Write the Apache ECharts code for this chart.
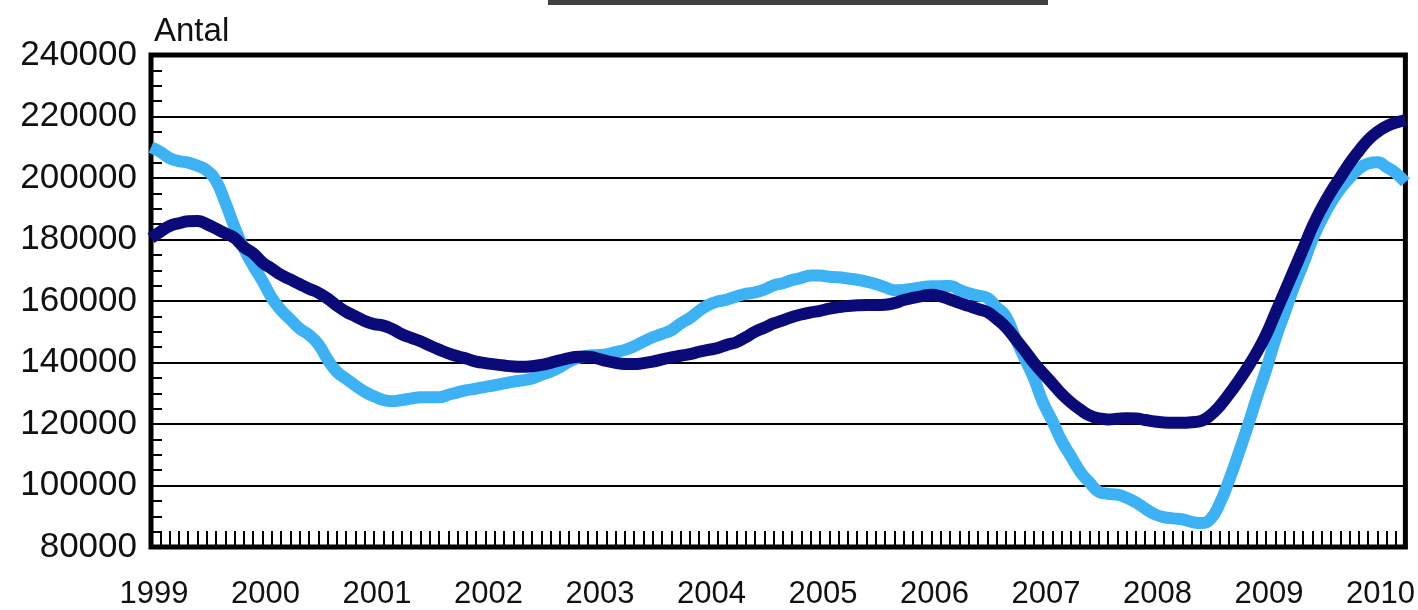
<!DOCTYPE html>
<html>
<head>
<meta charset="utf-8">
<script src="https://cdn.jsdelivr.net/npm/echarts@6/dist/echarts.min.js"></script>
<style>html,body{margin:0;padding:0;background:#fff}#c{width:1418px;height:610px}</style>
</head>
<body>
<div id="c"></div>
<script>
// Tick labels: one per January
const years = ['1999','2000','2001','2002','2003','2004','2005','2006','2007','2008','2009','2010'];
const monthsInLastYear = 4; // Jan–Apr 2010
const yTicks = [80000, 100000, 120000, 140000, 160000, 180000, 200000, 220000, 240000];
const yName = 'Antal';

// Light blue series (monthly, Jan 1999 – Apr 2010)
const seriesLight = [
  210000,208500,206500,205500,205000,204000,202500,199000,192000,184000,177000,171500,
  166500,161000,157000,154000,151000,149000,146000,141000,137000,134700,132500,130500,
  129000,127800,127400,127800,128300,128700,128700,128700,129500,130300,131000,131500,
  132100,132600,133200,133800,134200,134800,136000,137000,138500,140300,141500,142200,
  142400,142600,143400,144100,145300,146800,148200,149300,150500,152700,154500,156800,
  158700,159800,160500,161500,162300,162800,163700,165100,165800,166800,167500,168300,
  168300,167900,167700,167300,166900,166300,165500,164500,163500,163600,164000,164500,
  164800,164800,164900,163600,162500,161800,161000,158000,155000,148000,141500,135000,
  127000,121000,114500,109500,104500,101000,98000,97300,97000,96000,94500,92500,
  90700,89700,89300,89000,88200,87800,89000,94000,101500,110000,119000,128500,
  137500,147500,156000,164500,172000,180000,186500,192000,196500,200000,203000,204700,
  205100,203500,201500,198600
];
// Dark navy series (monthly, Jan 1999 – Apr 2010)
const seriesDark = [
  180400,182500,184400,185300,185900,186000,185000,183500,182000,180500,177500,175500,
  172500,170500,168500,167000,165500,164000,162700,160800,158500,156500,155000,153500,
  152500,152000,150800,149200,148000,146900,145500,144200,143000,142000,141200,140300,
  139800,139400,139000,138700,138600,138800,139200,139900,140700,141400,141900,141900,
  141300,140500,139900,139500,139500,139800,140300,141000,141700,142200,142700,143500,
  144100,144700,145800,146600,148200,150000,151300,152700,153700,154800,155600,156300,
  156800,157500,158000,158400,158600,158700,158700,158800,159300,160300,161000,161600,
  162000,161500,160500,159400,158400,157400,156400,154200,151500,147800,144000,140000,
  136500,133200,129800,127000,124700,122800,121800,121500,121700,121900,121800,121300,
  120800,120500,120400,120400,120600,121000,122800,125800,129600,133800,138300,143300,
  149000,156000,163000,170000,177000,184200,190300,195600,200200,204800,208800,212400,
  215000,216900,218000,218800
];

const categories = [];
years.forEach((y, i) => {
  const n = (i === years.length - 1) ? monthsInLastYear : 12;
  for (let m = 1; m <= n; m++) categories.push(y + '-' + String(m).padStart(2, '0'));
});

const chart = echarts.init(document.getElementById('c'), null, {renderer: 'canvas'});
const FONT = 'Liberation Sans, Arial, sans-serif';
chart.setOption({
  animation: false,
  backgroundColor: '#ffffff',
  title: {
    text: yName, left: 149, top: 10,
    textStyle: {fontFamily: FONT, fontSize: 33, fontWeight: 'normal', color: '#111'}
  },
  graphic: [{
    type: 'rect', left: 548, top: 0, shape: {width: 500, height: 5},
    style: {fill: '#404040'}, silent: true
  }],
  grid: {
    left: 151, right: 11, top: 55, bottom: 61.5,
    show: true, borderColor: '#000', borderWidth: 5, backgroundColor: 'transparent'
  },
  xAxis: {
    type: 'category', data: categories, boundaryGap: false,
    axisLine: {show: false},
    axisTick: {show: true, inside: true, length: 16, interval: 0, lineStyle: {color: '#000', width: 2}},
    axisLabel: {
      interval: (idx) => idx % 12 === 0,
      formatter: (v) => v.slice(0, 4),
      margin: 32, fontFamily: FONT, fontSize: 31, color: '#111', padding: [0, 0, 0, 6]
    },
    splitLine: {show: false}
  },
  yAxis: {
    type: 'value', min: yTicks[0], max: yTicks[yTicks.length - 1], interval: 20000,
    axisLine: {show: false},
    axisTick: {show: true, inside: true, length: 11, lineStyle: {color: '#000', width: 2}},
    minorTick: {show: true, splitNumber: 4, length: 11, lineStyle: {color: '#000', width: 2}},
    axisLabel: {margin: 14, fontFamily: FONT, fontSize: 35, color: '#111', formatter: (v) => String(v)},
    splitLine: {show: true, lineStyle: {color: '#000', width: 2}}
  },
  series: [
    {
      name: 'light', type: 'line', data: seriesLight, smooth: 0.5, symbol: 'none',
      lineStyle: {color: '#3cb2f4', width: 12, cap: 'butt', join: 'round'}, z: 2
    },
    {
      name: 'dark', type: 'line', data: seriesDark, smooth: 0.5, symbol: 'none',
      lineStyle: {color: '#0a0a78', width: 12, cap: 'butt', join: 'round'}, z: 3
    }
  ]
});
</script>
</body>
</html>
